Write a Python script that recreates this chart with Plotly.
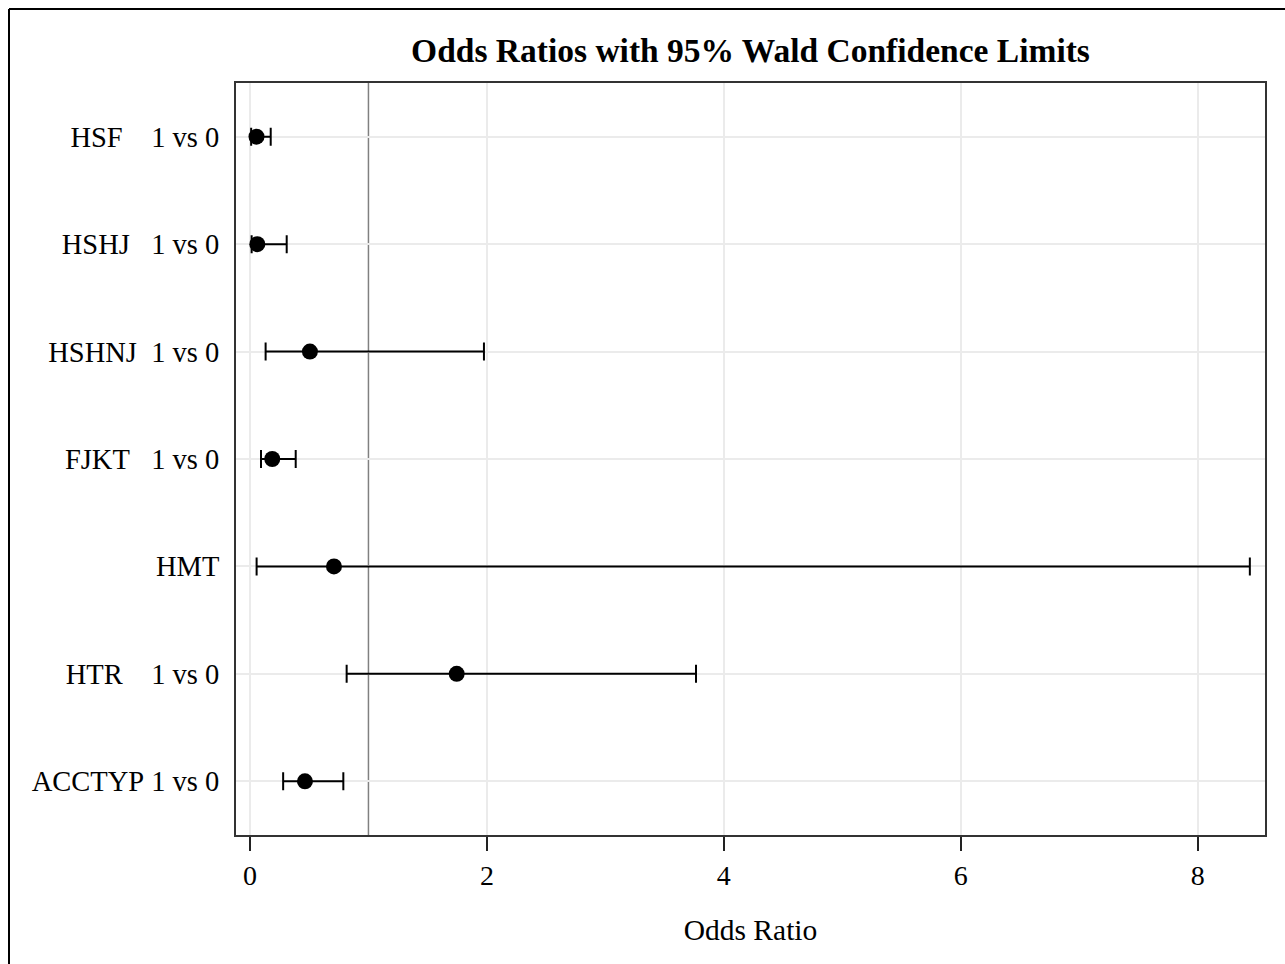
import plotly.graph_objects as go

# Odds ratio estimates with 95% Wald confidence limits
effects = ["HSF", "HSHJ", "HSHNJ", "FJKT", "HMT", "HTR", "ACCTYP"]
comparisons = ["1 vs 0", "1 vs 0", "1 vs 0", "1 vs 0", "", "1 vs 0", "1 vs 0"]
odds_ratio = [0.055, 0.062, 0.506, 0.188, 0.709, 1.745, 0.464]
lower_cl = [0.010, 0.014, 0.132, 0.093, 0.056, 0.816, 0.280]
upper_cl = [0.175, 0.310, 1.975, 0.386, 8.440, 3.765, 0.788]
x_ticks = [0, 2, 4, 6, 8]

NB = "\u00a0"


def make_label(name, comp):
    if not comp:
        return name
    pad = max(0, 6 - len(name))
    return name + NB * (pad + 1) + comp.replace(" ", NB)


labels = [make_label(n, c) for n, c in zip(effects, comparisons)]
err_plus = [u - o for u, o in zip(upper_cl, odds_ratio)]
err_minus = [o - l for o, l in zip(odds_ratio, lower_cl)]

FONT = "Liberation Serif, Times New Roman, serif"
W, H = 1285, 964
L, R, T, B = 236, 20, 83, 129

fig = go.Figure()
fig.add_trace(go.Scatter(
    x=odds_ratio,
    y=labels,
    mode="markers",
    marker=dict(symbol="circle", size=16, color="black"),
    error_x=dict(type="data", symmetric=False, array=err_plus, arrayminus=err_minus,
                 color="black", thickness=2, width=9),
    showlegend=False,
    hoverinfo="x+y",
))

# reference line at odds ratio = 1
fig.add_shape(type="line", xref="x", yref="paper", x0=1, x1=1, y0=0, y1=1,
              line=dict(color="#808080", width=1.5), layer="between")

# outer frame of the graph (left and top edges)
pw, ph = W - L - R, H - T - B
fx0 = (9 - L) / pw
fy1 = (H - B - 9) / ph
frame = dict(color="black", width=2)
fig.add_shape(type="line", xref="paper", yref="paper",
              x0=fx0, x1=fx0, y0=-(B + 40) / ph, y1=fy1, line=frame, layer="above")
fig.add_shape(type="line", xref="paper", yref="paper",
              x0=fx0, x1=(W + 40 - L) / pw, y0=fy1, y1=fy1, line=frame, layer="above")

fig.update_layout(
    width=W, height=H,
    margin=dict(l=L, r=R, t=T, b=B, autoexpand=False),
    paper_bgcolor="white", plot_bgcolor="white",
    font=dict(family=FONT, size=28, color="black"),
    title=dict(text="<b>Odds Ratios with 95% Wald Confidence Limits</b>",
               font=dict(family=FONT, size=33.5, color="black"),
               x=0.5, xref="paper", xanchor="center",
               y=1 - 50 / H, yref="container", yanchor="middle"),
)

fig.update_xaxes(
    range=[-0.118, 8.568], tickvals=x_ticks, ticktext=[str(v) for v in x_ticks],
    showgrid=True, gridcolor="#ebebeb", gridwidth=1.5, zeroline=False,
    showline=True, linecolor="#333333", linewidth=2, mirror=True,
    ticks="outside", ticklen=14, tickwidth=2, tickcolor="#222222",
    tickfont=dict(family=FONT, size=28),
    title=dict(text="Odds Ratio", font=dict(family=FONT, size=29.5), standoff=30),
)

fig.update_yaxes(
    type="category", categoryorder="array", categoryarray=labels[::-1],
    range=[-0.5, 6.5],
    showgrid=True, gridcolor="#ebebeb", gridwidth=1.5, zeroline=False,
    showline=True, linecolor="#333333", linewidth=2, mirror=True,
    ticks="", ticklabelstandoff=9, tickfont=dict(family=FONT, size=28.5),
)

fig.write_html("out.html")
